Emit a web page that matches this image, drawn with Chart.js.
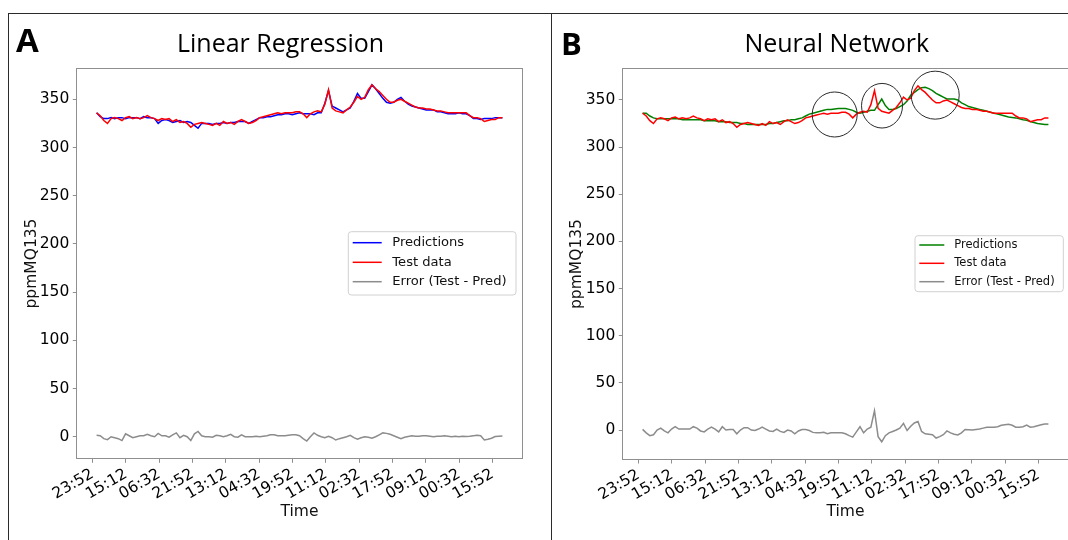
<!DOCTYPE html>
<html>
<head>
<meta charset="utf-8">
<script src="https://cdn.jsdelivr.net/npm/chart.js@4.4.1/dist/chart.umd.min.js"></script>
<style>
html,body{margin:0;padding:0;background:#fff;}
#wrap{position:relative;width:1068px;height:540px;overflow:hidden;background:#fff;}
canvas{position:absolute;top:0;}
#cA{left:0;}
#cB{left:546px;}
.rule{position:absolute;background:#2b2b2b;}
.letter{position:absolute;font-family:'Open Sans',sans-serif;font-weight:700;color:#000;line-height:1;}
</style>
</head>
<body>
<div id="wrap">
<canvas id="cA" width="551" height="540"></canvas>
<canvas id="cB" width="551" height="540"></canvas>
<div class="rule" style="left:8px;top:13px;width:1060px;height:1px"></div>
<div class="rule" style="left:8px;top:13px;width:1px;height:527px"></div>
<div class="rule" style="left:551px;top:13px;width:1px;height:527px"></div>
<div class="letter" style="left:16px;top:22.6px;font-size:33px">A</div>
<div class="letter" style="left:561px;top:27.9px;font-size:31px">B</div>
</div>
<script>
// ---------------- data ----------------
const tickLabels = ['23:52','15:12','06:32','21:52','13:12','04:32','19:52','11:12','02:32','17:52','09:12','00:32','15:52'];
const tickStepMin = 920;      // minutes between labelled ticks
const firstSampleMin = 110;   // first sample, minutes after the first tick
const sampleStepMin = 100;    // minutes between samples
const yTicks = [0, 50, 100, 150, 200, 250, 300, 350];

const testData = [
336,333,328,325,330,331,330,328,331,332,
330,331,330,331,333,331,330,328,330,329,
330,327,329,326,327,325,321,324,325,326,
325,324,323,325,323,327,325,326,324,327,
329,327,325,326,328,331,332,333,334,335,
336,335,336,336,336,337,337,335,331,335,
337,338,337,345,360,341,338,337,336,339,
342,347,353,350,352,360,365,361,358,354,
350,347,347,349,350,348,346,344,342,341,
341,340,340,339,338,338,337,336,336,336,
336,336,336,333,331,331,330,327,328,329,
329,331,331];

const predLR = [
336,332,330,330,331,330,331,331,330,331,
331,331,330,332,331,331,330,325,328,329,
328,326,327,328,326,327,326,323,320,325,
325,325,324,325,325,326,325,326,326,327,
327,327,325,327,329,331,331,332,332,333,
334,334,335,335,334,335,336,335,335,335,
334,336,336,346,359,343,341,339,337,339,
341,348,356,351,351,358,365,361,356,351,
347,346,347,350,352,348,345,343,342,341,
340,339,339,339,337,337,336,335,335,335,
336,335,335,333,330,330,329,330,330,330,
331,331,331];

const errLR = [
1.5,1,-2,-3,0,-1,-2,-4,3,1,
-1,0,1,1,2.5,1,0,3.5,1,1,
-0.5,2,4,-1,1.5,0,-4,3,5.5,1,
0,0,-0.5,1.5,1,0,1,2.5,0,-0.5,
2,0,0,0,0.5,0,0.5,1,2,2,
1,1,1,1.5,2,2,1,-2,-4.5,0,
4,1.5,0,-1,0.5,-1,-3.4,-2,-1,0,
1.5,-1,-2.5,-1,0,-0.5,-1.5,0,2,4,
3.5,2.5,1,-0.5,-2,-0.5,0.3,1,0.5,0.5,
1,1,0.5,0,0.5,0.5,1,0.5,0,0.5,
0,0.5,0.3,0.5,1,1.5,1,-3.4,-2.5,-1.5,
0.3,0.5,0.7];

const predNN = [
336,336,333,331,330,330,330,330,330,330,
330,329,329,329,329,329,329,328,328,328,
328,327,327,327,326,326,326,325,325,324,
324,324,324,324,324,325,325,326,327,328,
328,329,329,330,331,333,335,336,337,338,
339,340,340,340.5,341,341,341,340,339,337,
336,337,338,339,339,345,351,344,340,340,
341,343,345,349,355,358,361,363,363.5,362,
360,357,355,353,351,351,351,350,347,345,
343,342,341,340,339,338,337,336,335,334,
333,332,331.5,331,330,329,328.5,327,326,325,
324.5,324,324];

const errNN = [
0.7,-3,-6,-5,0,2,-1,-3,1,3.5,
1,1,1,1,3.5,2,-1,-2,1,3,
1,-2,3.5,0,0.5,0.5,-4,0,2.5,2.5,
0,-0.5,1,3,1,-1,-1.5,1,-1.5,-2.5,
0,-1,-4,-1,0.5,0.5,-0.5,-2.5,-3,-3,
-2.5,-4,-3,-3,-3,-3,-4,-6,-7.5,-2,
3.5,-3,1,3,20.5,-7,-12.5,-6,-3,-1.5,
0,2,7,-0.5,4,7.5,9,-1.5,-4,-4.5,
-5,-8.5,-7,-5,-1,-3,-4.5,-5.3,-3,0.5,
0.3,0,0.5,1,2,3,3,3,3.5,5,
5.5,6,5,3,3,3.5,5.3,3,3.5,4.5,
5.5,6.4,6.4];

// highlighted regions on the neural-network panel (time in minutes, value in ppm)
const nnCircles = [
  {x: 5412, y: 334.6, rx: 22.5, ry: 22.5},
  {x: 6718, y: 343.9, rx: 20.5, ry: 22.3},
  {x: 8186, y: 355.1, rx: 24, ry: 24}
];

// ---------------- helpers ----------------
const sampleX = testData.map((_, i) => firstSampleMin + i * sampleStepMin);
const toPts = arr => arr.map((v, i) => ({x: sampleX[i], y: v}));

Chart.defaults.font.family = "'DejaVu Sans', sans-serif";
Chart.defaults.color = '#000';

const decorPlugin = {
  id: 'decor',
  afterLayout(chart, args, opts) {
    const tb = chart.titleBlock;
    if (tb && opts.titleShift) { tb.left += opts.titleShift; tb.right += opts.titleShift; }
  },
  afterDraw(chart, args, opts) {
    const {ctx, chartArea: a, scales} = chart;
    ctx.save();
    // axes frame
    ctx.strokeStyle = opts.frameColor;
    ctx.lineWidth = 1;
    const l = Math.round(a.left) + 0.5, t = Math.round(a.top) + 0.5;
    const r = Math.round(a.right) - 0.5, b = Math.round(a.bottom) - 0.5;
    ctx.strokeRect(l, t, r - l, b - t);
    // circles
    (opts.circles || []).forEach(c => {
      const cx = scales.x.getPixelForValue(c.x);
      const cy = scales.y.getPixelForValue(c.y);
      ctx.beginPath();
      ctx.ellipse(cx, cy, c.rx, c.ry, 0, 0, Math.PI * 2);
      ctx.strokeStyle = '#2a2a2a';
      ctx.lineWidth = 1;
      ctx.stroke();
    });
    // legend
    const L = opts.legend;
    ctx.beginPath();
    const rad = 3;
    ctx.moveTo(L.x0 + rad, L.y0);
    ctx.arcTo(L.x1, L.y0, L.x1, L.y1, rad);
    ctx.arcTo(L.x1, L.y1, L.x0, L.y1, rad);
    ctx.arcTo(L.x0, L.y1, L.x0, L.y0, rad);
    ctx.arcTo(L.x0, L.y0, L.x1, L.y0, rad);
    ctx.closePath();
    ctx.fillStyle = 'rgba(255,255,255,0.85)';
    ctx.fill();
    ctx.strokeStyle = '#d0d0d0';
    ctx.lineWidth = 1;
    ctx.stroke();
    ctx.font = L.fontSize + "px 'DejaVu Sans'";
    ctx.textBaseline = 'middle';
    ctx.textAlign = 'left';
    chart.data.datasets.forEach((ds, k) => {
      const y = L.rows[k];
      ctx.strokeStyle = ds.borderColor;
      ctx.lineWidth = ds.borderWidth;
      ctx.beginPath();
      ctx.moveTo(L.hx0, y);
      ctx.lineTo(L.hx1, y);
      ctx.stroke();
      ctx.fillStyle = '#111';
      ctx.fillText(ds.label, L.tx, y);
    });
    ctx.restore();
  }
};

function makeChart(id, cfg) {
  return new Chart(document.getElementById(id), {
    type: 'line',
    data: {
      datasets: [
        {label: 'Predictions', data: toPts(cfg.pred), borderColor: cfg.predColor, borderWidth: 1.5, pointRadius: 0, order: 1},
        {label: 'Test data', data: toPts(testData), borderColor: '#ff0000', borderWidth: 1.5, pointRadius: 0, order: 0},
        {label: 'Error (Test - Pred)', data: toPts(cfg.err), borderColor: '#8c8c8c', borderWidth: 1.5, pointRadius: 0, order: 2}
      ]
    },
    plugins: [decorPlugin],
    options: {
      responsive: false,
      animation: false,
      devicePixelRatio: 1,
      layout: {padding: {left: 0, right: 28.3, top: 0, bottom: 0}},
      plugins: {
        legend: {display: false},
        tooltip: {enabled: false},
        title: {
          display: true, text: cfg.title, color: '#000',
          font: {family: "'Open Sans', sans-serif", size: 25, weight: 'normal'},
          padding: {top: 30, bottom: cfg.titleBottom}
        },
        decor: {frameColor: '#8f8f8f', circles: cfg.circles, legend: cfg.legend, titleShift: cfg.titleShift}
      },
      scales: {
        x: {
          type: 'linear', bounds: 'data', min: -450, max: 11870,
          afterBuildTicks: s => { s.ticks = tickLabels.map((_, k) => ({value: k * tickStepMin})); },
          afterFit: s => { s.height = cfg.xAxisHeight; s.paddingLeft = 0; s.paddingRight = 0; },
          ticks: {autoSkip: false, minRotation: 30, maxRotation: 30, padding: 2.3, color: '#000',
                  font: {size: 15.5}, callback: (v, k) => tickLabels[k]},
          grid: {drawOnChartArea: false, drawTicks: true, tickLength: 3.5, color: '#8f8f8f'},
          border: {display: false},
          title: {display: true, text: 'Time', color: '#111', font: {size: 15.5}, padding: {top: 0, bottom: 19.2}}
        },
        y: {
          type: 'linear', bounds: 'data', min: cfg.yMin, max: cfg.yMax,
          afterBuildTicks: s => { s.ticks = yTicks.map(v => ({value: v})); },
          afterFit: s => { s.width = 76.3; s.paddingTop = 0; s.paddingBottom = 0; },
          ticks: {padding: 3.5, color: '#000', font: {size: 15.5}},
          grid: {drawOnChartArea: false, drawTicks: true, tickLength: 3.5, color: '#8f8f8f'},
          border: {display: false},
          title: {display: true, text: 'ppmMQ135', color: '#111', font: {size: 15.5}, padding: {top: cfg.yTitlePad, bottom: 0}}
        }
      }
    }
  });
}

makeChart('cA', {
  title: 'Linear Regression', pred: predLR, err: errLR, predColor: '#0000ff',
  titleBottom: 7.7, titleShift: 19.2, xAxisHeight: 80.7,
  yMin: -23.4, yMax: 382.8, yTitlePad: 22.7, circles: [],
  legend: {x0: 348.3, y0: 231.7, x1: 516, y1: 295, rows: [242.7, 262.3, 281.7], hx0: 352.7, hx1: 381.7, tx: 392.3, fontSize: 13.1}
});

makeChart('cB', {
  title: 'Neural Network', pred: predNN, err: errNN, predColor: '#008000',
  titleBottom: 8, titleShift: 29.4, xAxisHeight: 80,
  yMin: -31.8, yMax: 383.9, yTitlePad: 21.7, circles: nnCircles,
  legend: {x0: 369, y0: 235.7, x1: 517.3, y1: 291.7, rows: [245, 263.3, 281.7], hx0: 373.3, hx1: 398.3, tx: 408.3, fontSize: 11.5}
});
</script>
</body>
</html>
